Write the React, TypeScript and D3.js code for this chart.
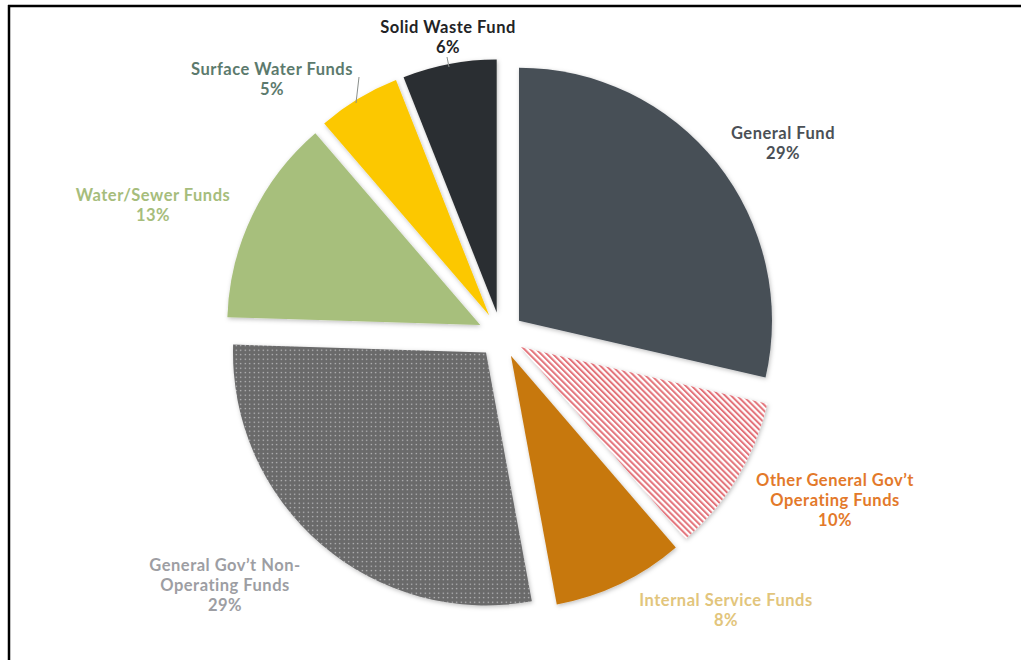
import React from "react";
import * as d3 from "d3";

const categories = [
  "General Fund",
  "Other General Gov’t Operating Funds",
  "Internal Service Funds",
  "General Gov’t Non-Operating Funds",
  "Water/Sewer Funds",
  "Surface Water Funds",
  "Solid Waste Fund",
];
// slice shares as measured from the slice angles
const values = [28.6, 10.1, 8.4, 28.4, 13.2, 5.3, 6.0];
// percentages as printed on the labels
const labelPct = ["29%", "10%", "8%", "29%", "13%", "5%", "6%"];
const labelLines = [
  ["General Fund"],
  ["Other General Gov’t", "Operating Funds"],
  ["Internal Service Funds"],
  ["General Gov’t Non-", "Operating Funds"],
  ["Water/Sewer Funds"],
  ["Surface Water Funds"],
  ["Solid Waste Fund"],
];

const fills = [
  "#474f57",
  "url(#hatch)",
  "#c77810",
  "url(#dots)",
  "#a7bf7b",
  "#fcc800",
  "#2a2d30",
];
const labelColors = [
  "#4b5056",
  "#e3792a",
  "#e2c57c",
  "#9d9ea3",
  "#a6bd7c",
  "#5c7a6d",
  "#222326",
];
// hand placed label anchors (center x, first baseline y)
const labelPos: [number, number][] = [
  [783, 139],
  [835, 486],
  [726, 606],
  [225, 571],
  [153, 201],
  [272, 75],
  [448, 33],
];
const leaders: [number, number, number, number][] = [
  [447, 57, 449, 67],
  [359, 77, 356, 103],
];

const W = 1021;
const H = 660;
const cx = 501;
const cy = 335;
const radius = 253;
const explode = 23;

function App() {
  const pie = d3
    .pie<number>()
    .sort(null)
    .value((d) => d);
  const arcs = pie(values);
  const arc = d3.arc<d3.PieArcDatum<number>>().innerRadius(0).outerRadius(radius);

  return (
    <svg
      width={W}
      height={H}
      style={{ position: "absolute", left: 0, top: 0, background: "#fff" }}
    >
      <defs>
        <pattern
          id="hatch"
          width={4.2}
          height={4.2}
          patternUnits="userSpaceOnUse"
          patternTransform="rotate(-45)"
        >
          <rect width={4.2} height={4.2} fill="#fff" />
          <rect width={2} height={4.2} fill="#e3737a" />
        </pattern>
        <pattern id="dots" width={4.5} height={4.5} patternUnits="userSpaceOnUse">
          <rect width={4.5} height={4.5} fill="#6a6a6b" />
          <circle cx={2.25} cy={2.25} r={0.65} fill="#fff" opacity={0.7} />
        </pattern>
        <filter id="shadow" x="-10%" y="-10%" width="120%" height="120%">
          <feDropShadow dx={1} dy={1.5} stdDeviation={2} floodColor="#000" floodOpacity={0.25} />
        </filter>
      </defs>

      <line x1={8} y1={6} x2={W} y2={6} stroke="#000" strokeWidth={2.5} />
      <line x1={9} y1={5} x2={9} y2={H} stroke="#000" strokeWidth={2.5} />

      <g transform={`translate(${cx},${cy})`}>
        {arcs.map((a, i) => {
          const mid = (a.startAngle + a.endAngle) / 2;
          const dx = Math.sin(mid) * explode;
          const dy = -Math.cos(mid) * explode;
          return (
            <path
              key={categories[i]}
              d={arc(a) || ""}
              transform={`translate(${dx},${dy})`}
              fill={fills[i]}
              filter="url(#shadow)"
            />
          );
        })}
      </g>

      {leaders.map(([x1, y1, x2, y2], i) => (
        <line key={i} x1={x1} y1={y1} x2={x2} y2={y2} stroke="#8a8f8c" strokeWidth={1} />
      ))}

      {categories.map((c, i) => {
        const [x, y] = labelPos[i];
        const lines = [...labelLines[i], labelPct[i]];
        return (
          <text
            key={c}
            x={x}
            y={y}
            textAnchor="middle"
            fill={labelColors[i]}
            fontFamily="Lato, 'Open Sans', sans-serif"
            fontWeight={700}
            fontSize={16.5}
            letterSpacing={0.5}
          >
            {lines.map((l, j) => (
              <tspan key={j} x={x} dy={j === 0 ? 0 : 20}>
                {l}
              </tspan>
            ))}
          </text>
        );
      })}
    </svg>
  );
}

export default App;
